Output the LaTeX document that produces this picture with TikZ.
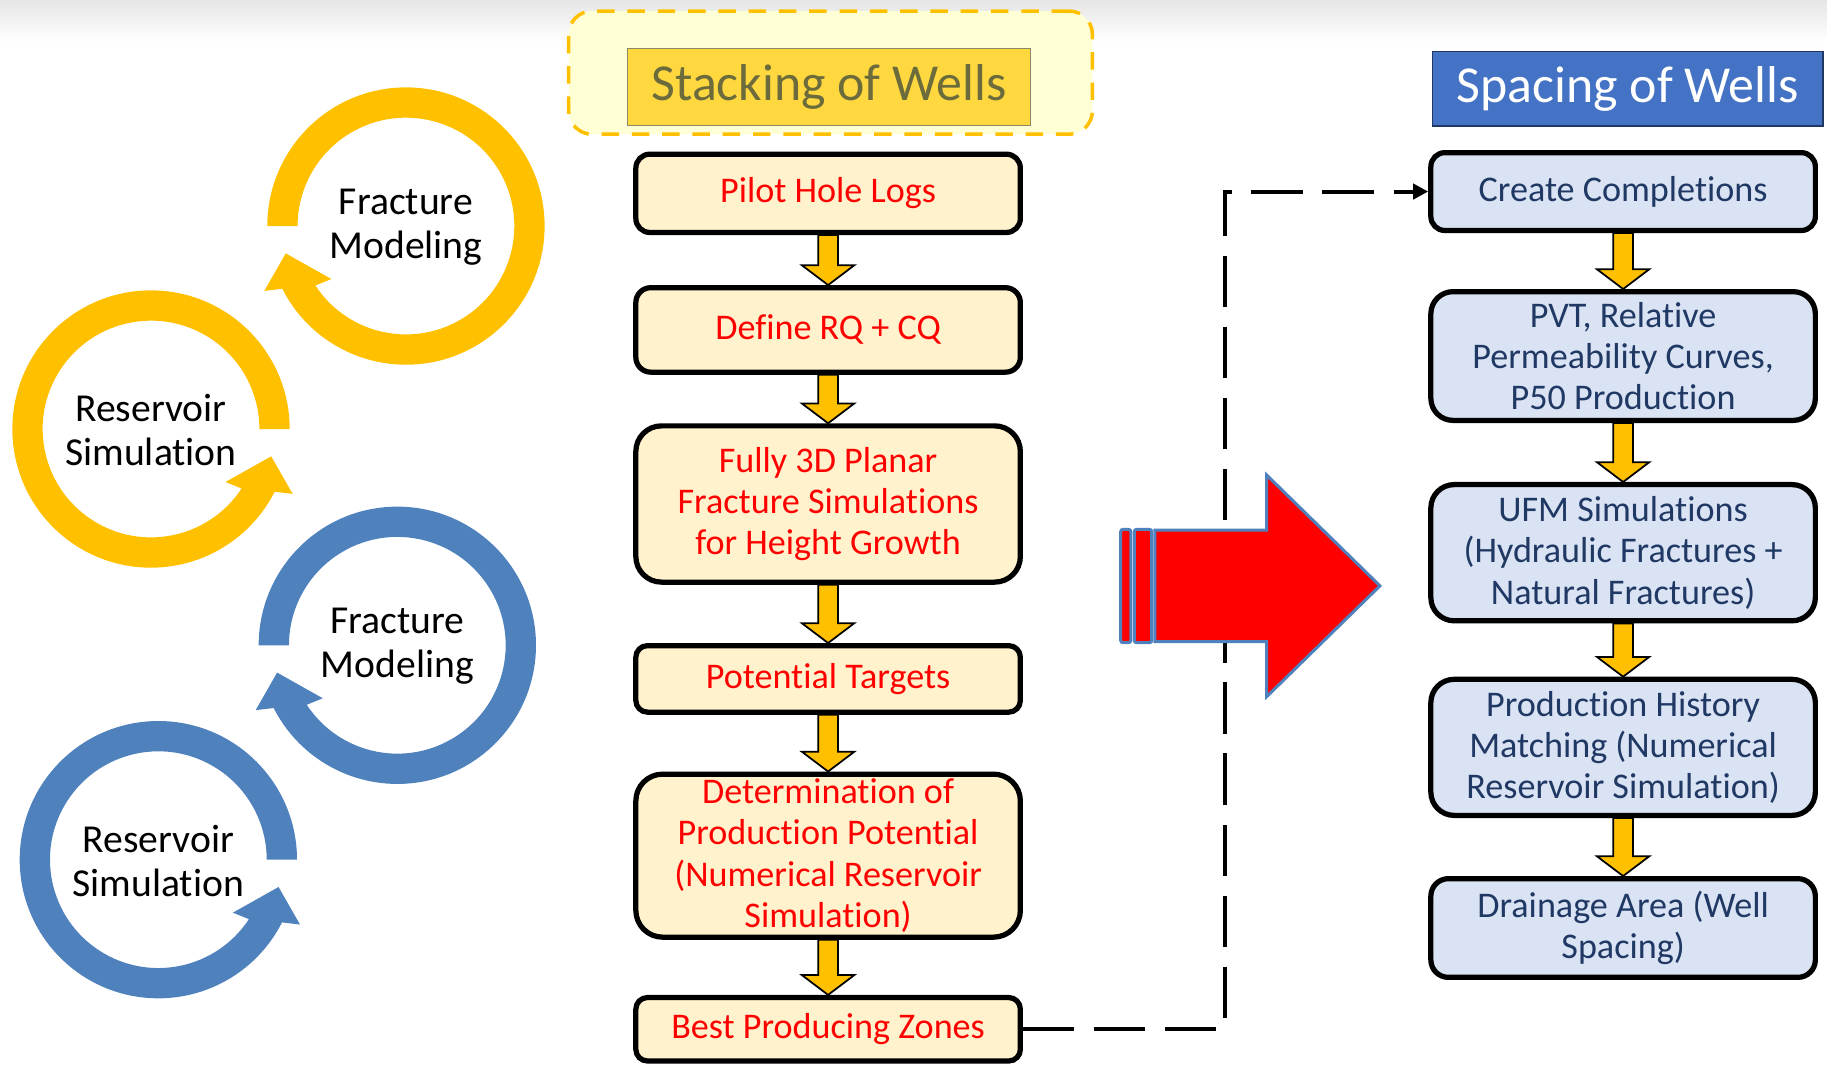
\documentclass[tikz,border=0pt]{standalone}
\usepackage{fontspec}
\setmainfont{Carlito}[Ligatures=NoCommon]
\usetikzlibrary{arrows.meta, positioning, calc}
\definecolor{cgold}{HTML}{FFC000}
\definecolor{csteel}{HTML}{4F81BD}
\definecolor{cstackfill}{HTML}{FFF2CC}
\definecolor{cspacefill}{HTML}{DAE3F3}
\definecolor{cnavy}{HTML}{203864}
\definecolor{chdrblue}{HTML}{4472C4}
\definecolor{chdrgold}{HTML}{FFD83F}
\definecolor{colive}{HTML}{6B6B3C}
\definecolor{cpale}{HTML}{FFFFD6}
\definecolor{cred}{HTML}{FF0000}
\tikzset{
  stackbox/.style={
    rounded corners=#1,
    draw=black, fill=cstackfill,
    text=cred, font={\fontsize{31}{35.5}\selectfont},
    minimum width=330pt, line width=4.5pt,
    align=center, inner xsep=4pt, inner ysep=1pt,
  },
  spacebox/.style={stackbox=#1, fill=cspacefill, text=cnavy},
  hdr/.style={font={\fontsize{44.5}{50}\selectfont}, inner sep=0pt, line width=1pt},
  ringtxt/.style={font={\fontsize{34}{38}\selectfont}, align=center,
    text=black, yshift=-1pt},
  yarr/.style={fill=cgold, draw=black, line width=1.5pt},
  bigarr/.style={fill=cred, draw=csteel, line width=2.6pt},
  conn/.style={
    draw=black, line width=3.4pt, dash pattern=on 44pt off 17pt,
    -{Triangle[length=13pt,width=13pt]},
  },
  ringarrow/.pic={
    \fill[pic actions] (180:93pt) -- (180:119pt)
      arc[start angle=180, end angle=-153.1, radius=119pt]
      -- (-155.4:133.7pt) -- (-167.2:105.8pt) -- (-144.6:78.5pt)
      -- (-146.7:93pt) arc[start angle=-146.7, end angle=180, radius=93pt]
      -- cycle;
  },
}
% yellow block arrow from one box down to the next
\newcommand{\flowarr}[2]{%
  \filldraw[yarr] let \p1=(#1.south), \p2=(#2.north) in
    ({\x1-8.5pt},\y1) -- ({\x1-8.5pt},{\y2+17pt}) -- ({\x1-22.5pt},{\y2+17pt})
    -- (\x1,\y2) -- ({\x1+22.5pt},{\y2+17pt}) -- ({\x1+8.5pt},{\y2+17pt})
    -- ({\x1+8.5pt},\y1) -- cycle;}

\begin{document}
\begin{tikzpicture}[x=1pt, y=1pt]
\useasboundingbox (0,0) rectangle (1568,-915);
\shade[top color=black!10, bottom color=white] (0,0) rectangle (1568,-36);

%% ── HEADERS ───────────────────────────────────────────────
\node[draw=cgold, line width=3pt, dash pattern=on 15pt off 11pt, fill=cpale,
      rounded corners=20pt, minimum width=449.4pt, minimum height=105.7pt]
      (stackframe) at (712.8,-62.35) {};
\node[hdr, draw=colive!80, fill=chdrgold, text=colive,
      minimum width=346pt, minimum height=66pt] (stackhdr) at (711.5,-74.4)
      {Stacking of Wells};
\node[hdr, draw=cnavy, fill=chdrblue, text=white,
      minimum width=335pt, minimum height=64.2pt] (spacehdr) at (1397,-76.1)
      {Spacing of Wells};

%% ── STACKING COLUMN ───────────────────────────────────────
\node[stackbox=12pt, minimum height=67.2pt] (pilot) at (710.7,-165.9)
  {Pilot Hole Logs};
\node[stackbox=12.8pt, minimum height=72.5pt, below=42.9pt of pilot] (rqcq)
  {Define RQ + CQ};
\node[stackbox=22pt, minimum height=134.1pt, below=41.6pt of rqcq] (planar)
  {Fully 3D Planar\\Fracture Simulations\\for Height Growth};
\node[stackbox=10pt, minimum height=57.1pt, below=50pt of planar] (targets)
  {Potential Targets};
\node[stackbox=23pt, minimum height=139.9pt, below=48.7pt of targets] (potential)
  {Determination of\\Production Potential\\(Numerical Reservoir\\Simulation)};
\node[stackbox=10pt, minimum height=54.5pt, below=47.3pt of potential] (zones)
  {Best Producing Zones};

%% ── SPACING COLUMN ────────────────────────────────────────
\node[spacebox=12pt, minimum height=66.8pt] (compl) at (1393,-164.4)
  {Create Completions};
\node[spacebox=19pt, minimum height=110.5pt, below=48pt of compl] (pvt)
  {PVT, Relative\\Permeability Curves,\\P50 Production};
\node[spacebox=20pt, minimum height=116.9pt, below=50.6pt of pvt] (ufm)
  {UFM Simulations\\(Hydraulic Fractures +\\Natural Fractures)};
\node[spacebox=20pt, minimum height=116.8pt, below=45.7pt of ufm] (history)
  {Production History\\Matching (Numerical\\Reservoir Simulation)};
\node[spacebox=15pt, minimum height=84.7pt, below=49.8pt of history] (drainage)
  {Drainage Area (Well\\Spacing)};

%% ── Arrows ────────────────────────────────────────────────
\flowarr{pilot}{rqcq}
\flowarr{rqcq}{planar}
\flowarr{planar}{targets}
\flowarr{targets}{potential}
\flowarr{potential}{zones}
\flowarr{compl}{pvt}
\flowarr{pvt}{ufm}
\flowarr{ufm}{history}
\flowarr{history}{drainage}

\draw[conn] (zones.east) -- ++(173.3,0) |- (compl.west);

%% ── Big red arrow ─────────────────────────────────────────
\filldraw[bigarr, rounded corners=2pt] (961.8,-454.3) rectangle (970.5,-551.6);
\filldraw[bigarr, rounded corners=2pt] (973.5,-454.3) rectangle (988.4,-551.6);
\filldraw[bigarr] (991.2,-454.9) -- (1087.1,-454.9) -- (1087.1,-407.7)
  -- (1184.3,-502.8) -- (1087.1,-597.9) -- (1087.1,-550.7)
  -- (991.2,-550.7) -- cycle;

%% ── Cycle arrows ──────────────────────────────────────────
\pic[fill=cgold] at (348.4,-194) {ringarrow};
\node[ringtxt] (fracY) at (348.4,-194) {Fracture\\Modeling};
\pic[fill=cgold, xscale=-1] at (129.6,-368.2) {ringarrow};
\node[ringtxt] (resY) at (129.6,-368.2) {Reservoir\\Simulation};
\pic[fill=csteel] at (341,-553.8) {ringarrow};
\node[ringtxt] (fracB) at (341,-553.8) {Fracture\\Modeling};
\pic[fill=csteel, xscale=-1] at (135.9,-737.8) {ringarrow};
\node[ringtxt] (resB) at (135.9,-737.8) {Reservoir\\Simulation};

\end{tikzpicture}
\end{document}
